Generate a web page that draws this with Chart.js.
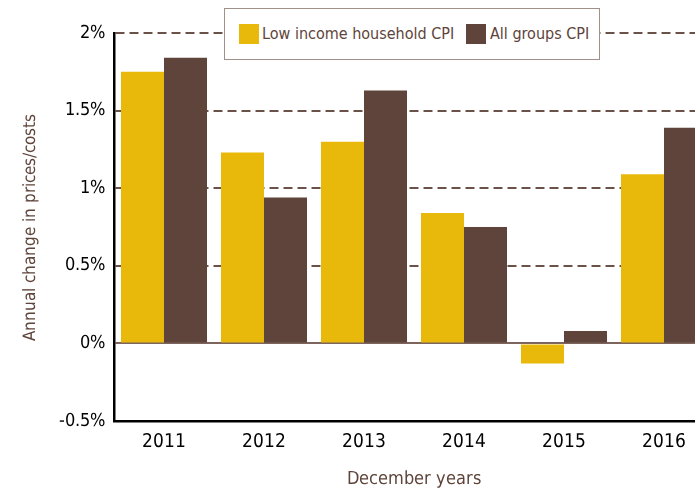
<!DOCTYPE html>
<html>
<head>
<meta charset="utf-8">
<script src="https://cdn.jsdelivr.net/npm/chart.js@4.4.1/dist/chart.umd.min.js"></script>
<style>
  @font-face { font-family: 'DVCond'; src: local('DejaVu Sans Condensed'), local('DejaVuSansCondensed'); }
  html, body { margin: 0; padding: 0; background: #fff; overflow: hidden; }
  #wrap { position: relative; width: 695px; height: 493px; overflow: hidden; }
  #legend {
    position: absolute; left: 224px; top: 8px; width: 376px; height: 52px;
    border: 1px solid #a0908a; background: #fff; box-sizing: border-box;
    font-family: "DejaVu Sans", sans-serif; font-stretch: condensed;
    font-size: 16px; color: #5e443a; white-space: nowrap;
  }
  .sw { position: absolute; top: 15px; width: 20px; height: 20px; }
  .txt { position: absolute; top: 14px; line-height: 22px; }
</style>
</head>
<body>
<div id="wrap">
  <canvas id="chart" width="720" height="493"></canvas>
  <div id="legend"></div>
</div>
<script>
const years = ['2011', '2012', '2013', '2014', '2015', '2016'];
const lowIncome = [1.75, 1.23, 1.30, 0.84, -0.13, 1.09];
const allGroups = [1.84, 0.94, 1.63, 0.75, 0.08, 1.39];
const seriesNames = ['Low income household CPI', 'All groups CPI'];
const seriesColors = ['#e8b90a', '#5e443a'];

const font = 'DVCond, "DejaVu Sans", sans-serif';
const brown = '#5e443a';

function makeChart() {
    const ctx = document.getElementById('chart').getContext('2d');
    const chart = new Chart(ctx, {
        type: 'bar',
        data: {
            labels: years,
            datasets: [
                { label: seriesNames[0], data: lowIncome, backgroundColor: seriesColors[0] },
                { label: seriesNames[1], data: allGroups, backgroundColor: seriesColors[1] }
            ]
        },
        options: {
            responsive: false, animation: false,
            categoryPercentage: 0.86, barPercentage: 1,
            layout: { padding: { top: 33, right: 6, left: 0, bottom: 0 } },
            plugins: { legend: { display: false }, tooltip: { enabled: false } },
            scales: {
                x: {
                    grid: { display: false, drawTicks: false },
                    border: { color: '#000', width: 2.5 },
                    ticks: { color: '#000', padding: 10, font: { family: font, size: 19 } },
                    title: { display: true, text: 'December years', color: brown, font: { family: font, size: 18 }, padding: { top: 0, bottom: 3 } },
                    afterFit: (s) => { s.height = 72; }
                },
                y: {
                    min: -0.5, max: 2,
                    ticks: { stepSize: 0.5, color: '#000', padding: 9, font: { family: font, size: 18 }, callback: (v) => v + '%' },
                    grid: {
                        drawTicks: false, lineWidth: 2,
                        color: (c) => c.tick.value === -0.5 ? 'rgba(0,0,0,0)' : (c.tick.value === 0 ? '#7d655d' : '#6b5249')
                    },
                    border: { color: '#000', width: 2.5, dash: (c) => c.tick && c.tick.value === 0 ? [] : [9, 5] },
                    title: { display: true, text: 'Annual change in prices/costs', color: brown, font: { family: font, size: 17 }, padding: { top: 20, bottom: 0 } },
                    afterFit: (s) => { s.width = 114; }
                }
            }
        }
    });

    // legend as html, placed like the original box
    const legend = document.getElementById('legend');
    const swLeft = [14, 241];
    const txtLeft = [37, 265];
    chart.data.datasets.forEach((ds, i) => {
        legend.innerHTML += `<div class="sw" style="left:${swLeft[i]}px;background:${ds.backgroundColor}"></div>` +
            `<div class="txt" style="left:${txtLeft[i]}px">${ds.label}</div>`;
    });
}

document.fonts.load('19px DVCond').then(makeChart, makeChart);
</script>
</body>
</html>
